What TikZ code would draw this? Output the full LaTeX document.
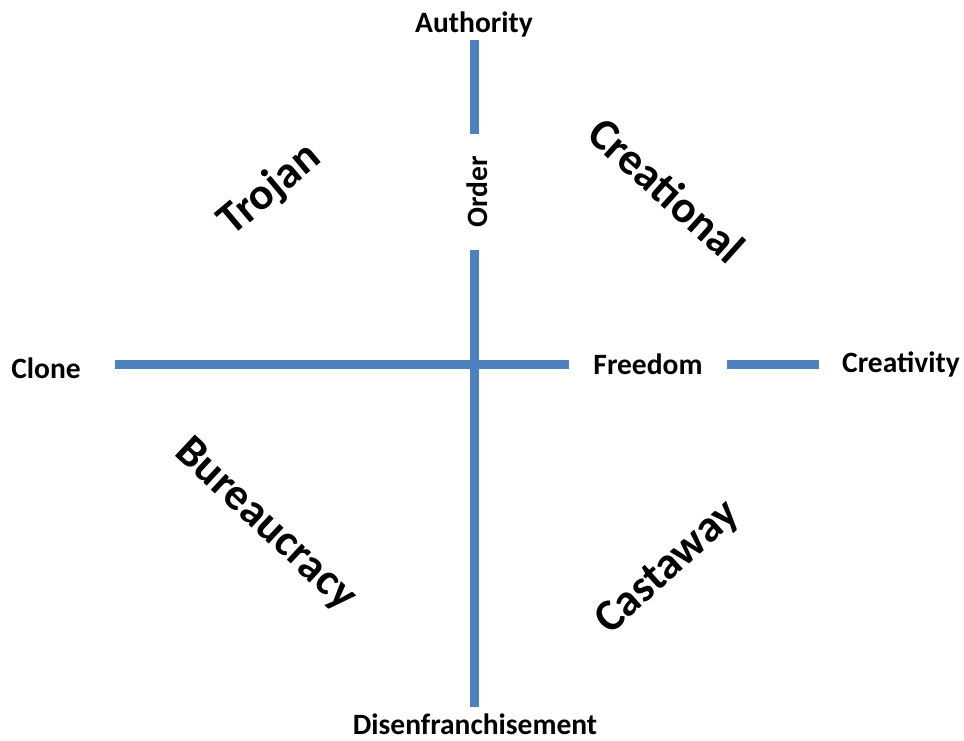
\documentclass[tikz,border=0pt]{standalone}
\usepackage{fontspec}
\setmainfont{Carlito}
\usepackage{xcolor}
\definecolor{axisblue}{HTML}{4F81BD}

\begin{document}
\begin{tikzpicture}[x=1pt, y=-1pt,
    axis/.style={draw=axisblue, line width=9pt},
    pole/.style={font=\bfseries\fontsize{29.5}{32}\selectfont, inner sep=0pt},
    quad/.style={font=\bfseries\fontsize{45}{50}\selectfont, inner sep=0pt}]
    \useasboundingbox (0,0) rectangle (964,740);
    % ends of the two axes
    \coordinate (top) at (474,40);
    \coordinate (bottom) at (474,707);
    \coordinate (left) at (115,364);
    \coordinate (right) at (819,364);
    % labels on the axes
    \node[pole] (authority) at (474,24) {Authority};
    \node[pole] (disen) at (475,724) {Disenfranchisement};
    \node[pole] (clone) at (46,368) {Clone};
    \node[pole] (creativity) at (901,364) {Creativity};
    \node[pole, inner xsep=24pt] (freedom) at (648,364) {Freedom};
    \node[pole, rotate=90, inner xsep=22pt] (order) at (477,192) {Order};
    % the four quadrants
    \node[quad, rotate=40] (trojan) at (270,190) {Trojan};
    \node[quad, rotate=-42] (creational) at (667,190) {Creational};
    \node[quad, rotate=-43] (bureau) at (265,525) {Bureaucracy};
    \node[quad, rotate=42] (castaway) at (668,568) {Castaway};
    \path[axis]
      (top) edge (top |- order.east)
      (bottom |- order.west) edge (bottom)
      (left) edge (freedom.west)
      (freedom.east) edge (right)
      ;
\end{tikzpicture}
\end{document}
